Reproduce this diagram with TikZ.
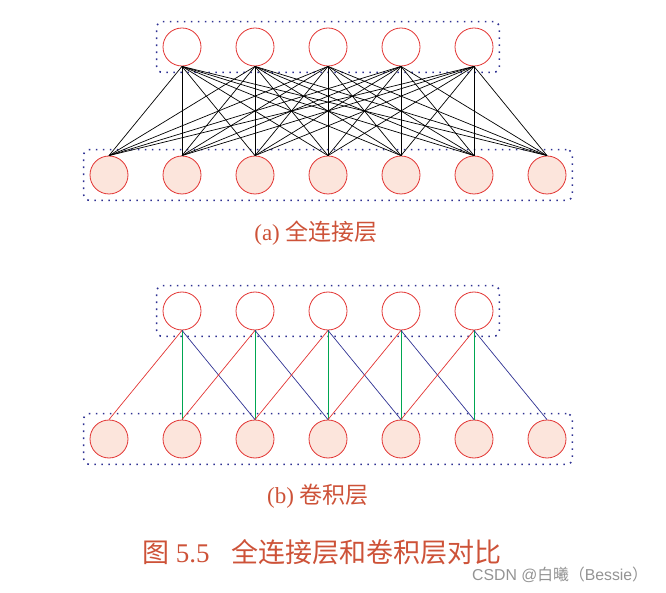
\documentclass[tikz,border=0pt]{standalone}
\usepackage{fontspec}
\usepackage{tikz}
\setmainfont{Liberation Serif}
\newfontfamily\cjk{Noto Sans CJK SC}
\newfontfamily\marca{Liberation Sans}
\usetikzlibrary{fit}
\definecolor{rojo}{RGB}{226,52,50}
\definecolor{rosa}{RGB}{252,229,220}
\definecolor{azul}{RGB}{46,49,146}
\definecolor{verde}{RGB}{0,166,81}
\definecolor{titulo}{RGB}{205,82,56}

\begin{document}
\begin{tikzpicture}[x=1pt, y=-1pt,
  neurona/.style={circle, draw=rojo, line width=0.8pt, minimum size=38pt, inner sep=0pt},
  entrada/.style={neurona, fill=rosa},
  capa/.style={draw=azul, line width=1.6pt, dash pattern=on 1.6pt off 5.4pt, rounded corners=6pt, inner sep=6pt},
  conexion/.style={line width=0.7pt},
  leyenda/.style={text=titulo, inner sep=0pt, font=\fontsize{23}{27}\selectfont}]
  \useasboundingbox (0,0) rectangle (666,593);

  % (a) capa totalmente conectada
  \foreach \i in {1,...,5}
    \node[neurona] (s\i a) at ({109+73*\i},47) {};
  \foreach \i in {1,...,7}
    \node[entrada] (e\i a) at ({36+73*\i},175) {};
  \node[capa, fit=(s1a)(s5a)] (cajaSa) {};
  \node[capa, fit=(e1a)(e7a)] (cajaEa) {};

  \foreach \s in {1,...,5}
    \foreach \j in {1,...,7}
      \draw[conexion] (s\s a.south) -- (e\j a.north);

  \node[leyenda] (pieA) at (316,233) {(a) {\cjk 全连接层}};

  % (b) capa convolucional
  \foreach \i in {1,...,5}
    \node[neurona] (s\i b) at ({109+73*\i},311) {};
  \foreach \i in {1,...,7}
    \node[entrada] (e\i b) at ({36+73*\i},439) {};
  \node[capa, fit=(s1b)(s5b)] (cajaSb) {};
  \node[capa, fit=(e1b)(e7b)] (cajaEb) {};

  \foreach \s in {1,...,5} {
    \pgfmathtruncatemacro\m{\s+1}
    \pgfmathtruncatemacro\n{\s+2}
    \draw[conexion, rojo] (s\s b.south) -- (e\s b.north);
    \draw[conexion, verde] (s\s b.south) -- (e\m b.north);
    \draw[conexion, azul] (s\s b.south) -- (e\n b.north);
  }

  \node[leyenda] (pieB) at (318,496) {(b) {\cjk 卷积层}};

  % titulo de la figura
  \node[leyenda, font=\fontsize{27}{31}\selectfont, anchor=west] (figura) at (142,552)
    {{\cjk 图} 5.5\hspace{22pt}{\cjk 全连接层和卷积层对比}};
  \node[text=gray!85, inner sep=0pt, anchor=west, font=\marca\fontsize{15.8}{19}\selectfont] (marca) at (472,575)
    {CSDN @{\cjk 白曦（}Bessie{\cjk ）}};
\end{tikzpicture}
\end{document}
